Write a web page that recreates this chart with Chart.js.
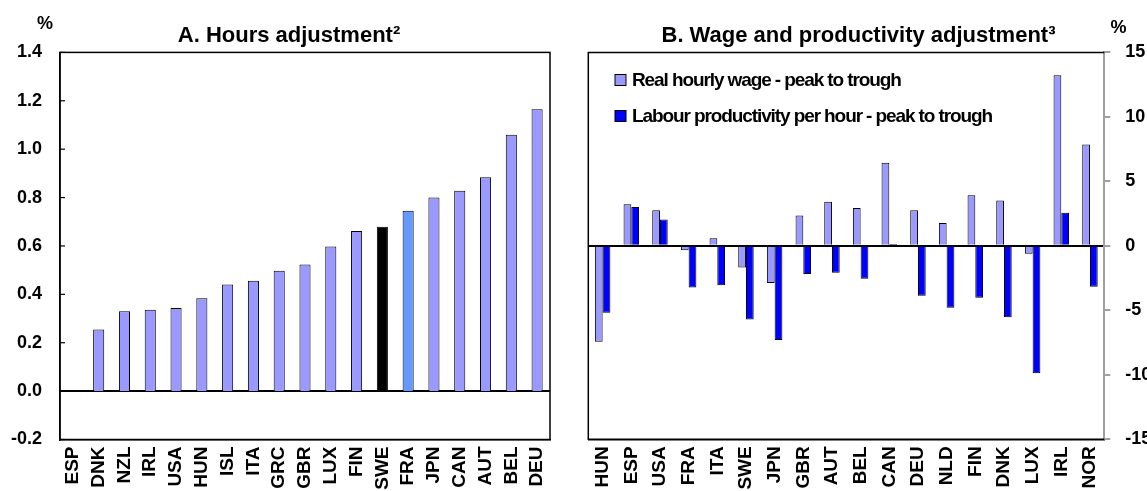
<!DOCTYPE html>
<html><head><meta charset="utf-8">
<script src="https://cdn.jsdelivr.net/npm/chart.js@4"></script>
<style>
html,body{margin:0;padding:0;background:#fff;}
#wrap{position:relative;width:1147px;height:491px;overflow:hidden;background:#fff;}
.c{position:absolute;top:0;height:491px;}
#ca{left:0;width:578px;}
#cb{left:570px;width:577px;}
</style></head><body>
<div id="wrap">
<div class="c" id="ca"><canvas id="a" width="578" height="491"></canvas></div>
<div class="c" id="cb"><canvas id="b" width="577" height="491"></canvas></div>
</div>
<script>
// Panel A: hours adjustment (%)
const hoursCountries = ['ESP','DNK','NZL','IRL','USA','HUN','ISL','ITA','GRC','GBR','LUX','FIN','SWE','FRA','JPN','CAN','AUT','BEL','DEU'];
const hoursValues = [0, 0.255, 0.330, 0.336, 0.344, 0.384, 0.441, 0.456, 0.497, 0.523, 0.598, 0.662, 0.679, 0.745, 0.800, 0.828, 0.884, 1.060, 1.165];
const hoursTitle = 'A. Hours adjustment²';

// Panel B: wage and productivity adjustment (%)
const wageCountries = ['HUN','ESP','USA','FRA','ITA','SWE','JPN','GBR','AUT','BEL','CAN','DEU','NLD','FIN','DNK','LUX','IRL','NOR'];
const realWage = [-7.44, 3.23, 2.76, -0.34, 0.59, -1.68, -2.89, 2.35, 3.41, 2.94, 6.45, 2.76, 1.78, 3.92, 3.51, -0.62, 13.22, 7.85];
const labourProd = [-5.19, 3.02, 2.04, -3.23, -3.05, -5.71, -7.31, -2.19, -2.09, -2.56, 0.15, -3.87, -4.80, -4.03, -5.53, -9.88, 2.56, -3.18];
const wageLabel = 'Real hourly wage - peak to trough';
const prodLabel = 'Labour productivity per hour - peak to trough';
const wageTitle = 'B. Wage and productivity adjustment³';

const FONT = "'Liberation Sans', Arial, Helvetica, sans-serif";
Chart.defaults.font.family = FONT;
Chart.defaults.color = '#000';

const zeroOnly = c => (Math.abs(c.tick.value) < 1e-9 ? '#000' : 'rgba(0,0,0,0)');

const xTicks = {autoSkip:false, minRotation:90, maxRotation:90, padding:7, color:'#000', font:{size:19, weight:'bold'}};
const titleOpts = text => ({display:true, text, color:'#000', font:{size:22, weight:'bold', lineHeight:1.2}, padding:{top:23, bottom:3}});
// invisible spacer axis so the title stays centred on the whole panel
const spacer = (pos, w) => ({type:'linear', position:pos, display:true, min:0, max:1, grid:{display:false, drawTicks:false}, border:{display:false}, ticks:{display:false}, afterFit(s){ s.width = w; }});

const frameA = {
  id:'frameA',
  afterDatasetsDraw(chart){
    const {ctx, chartArea:a, scales} = chart;
    ctx.save();
    ctx.strokeStyle = '#000'; ctx.lineWidth = 1.5;
    ctx.strokeRect(a.left, a.top, a.right - a.left, a.bottom - a.top);
    ctx.lineWidth = 1.2;
    scales.y.ticks.forEach(t => {
      const y = scales.y.getPixelForValue(t.value);
      ctx.beginPath(); ctx.moveTo(a.left, y); ctx.lineTo(a.left + 5, y); ctx.stroke();
    });
    ctx.restore();
  },
  afterDraw(chart){
    const ctx = chart.ctx;
    ctx.save();
    ctx.font = 'bold 18px ' + FONT; ctx.fillStyle = '#000';
    ctx.textAlign = 'center'; ctx.textBaseline = 'middle';
    ctx.fillText('%', 45, 24);
    ctx.restore();
  }
};

const frameB = {
  id:'frameB',
  afterDatasetsDraw(chart){
    const {ctx, chartArea:a} = chart;
    ctx.save();
    ctx.strokeStyle = '#000'; ctx.lineWidth = 1.5;
    ctx.beginPath();
    ctx.moveTo(a.right, a.top); ctx.lineTo(a.left, a.top); ctx.lineTo(a.left, a.bottom); ctx.lineTo(a.right, a.bottom);
    ctx.stroke();
    ctx.restore();
  },
  afterDraw(chart){
    const ctx = chart.ctx;
    ctx.save();
    ctx.font = 'bold 18px ' + FONT; ctx.fillStyle = '#000';
    ctx.textAlign = 'center'; ctx.textBaseline = 'middle';
    ctx.fillText('%', 548.5, 28);
    // legend
    ctx.font = 'bold 19px ' + FONT;
    ctx.textAlign = 'left';
    try { ctx.letterSpacing = '-1.1px'; } catch(e) {}
    chart.data.datasets.forEach((ds, i) => {
      const cy = 80 + i * 36;
      ctx.fillStyle = ds.backgroundColor;
      ctx.fillRect(45, cy - 5.5, 11, 11);
      ctx.strokeStyle = '#000'; ctx.lineWidth = 1;
      ctx.strokeRect(45, cy - 5.5, 11, 11);
      ctx.fillStyle = '#000';
      ctx.fillText(ds.label, 62, cy + 1);
    });
    ctx.restore();
  }
};

new Chart(document.getElementById('a'), {
  type:'bar',
  data:{
    labels:hoursCountries,
    datasets:[{
      data:hoursValues, xAxisID:'x', yAxisID:'y',
      backgroundColor:hoursCountries.map(c => c === 'SWE' ? '#000000' : (c === 'FRA' ? '#6699FF' : '#9999FF')),
      borderColor:'#000', borderWidth:1,
      barPercentage:0.43, categoryPercentage:1
    }]
  },
  options:{
    responsive:false, animation:false, devicePixelRatio:1,
    layout:{padding:0},
    plugins:{legend:{display:false}, tooltip:{enabled:false}, title:titleOpts(hoursTitle)},
    scales:{
      x:{
        grid:{display:false, drawTicks:false},
        border:{display:true, color:'#000', width:1.5},
        ticks:xTicks,
        afterFit(s){ s.height = 51.5; }
      },
      y:{
        min:-0.2, max:1.4,
        ticks:{stepSize:0.2, color:'#000', padding:18, font:{size:18, weight:'bold'},
               callback:v => (Math.abs(v) < 1e-9 ? 0 : Number(v)).toFixed(1)},
        grid:{drawTicks:false, color:zeroOnly, lineWidth:2},
        border:{display:true, color:'#000', width:1.5},
        afterFit(s){ s.width = 60; }
      },
      yPad: spacer('right', 28)
    }
  },
  plugins:[frameA]
});

new Chart(document.getElementById('b'), {
  type:'bar',
  data:{
    labels:wageCountries,
    datasets:[
      {label:wageLabel, data:realWage, xAxisID:'x', yAxisID:'y', backgroundColor:'#9999FF', borderColor:'#000', borderWidth:1, barPercentage:1, categoryPercentage:0.54},
      {label:prodLabel, data:labourProd, xAxisID:'x', yAxisID:'y', backgroundColor:'#0000FF', borderColor:'#000', borderWidth:1, barPercentage:1, categoryPercentage:0.54}
    ]
  },
  options:{
    responsive:false, animation:false, devicePixelRatio:1,
    layout:{padding:0},
    plugins:{legend:{display:false}, tooltip:{enabled:false}, title:titleOpts(wageTitle)},
    scales:{
      x:{
        grid:{display:false, drawTicks:false},
        border:{display:true, color:'#000', width:1.5},
        ticks:xTicks,
        afterFit(s){ s.height = 51.7; }
      },
      y:{
        position:'right',
        min:-15, max:15,
        ticks:{stepSize:5, color:'#000', padding:15, font:{size:18, weight:'bold'}},
        grid:{color:zeroOnly, lineWidth:2, tickColor:'#A0A0A0', tickLength:6, tickWidth:2},
        border:{display:true, color:'#A0A0A0', width:2},
        afterFit(s){ s.width = 42.7; }
      },
      yPad: spacer('left', 18.3)
    }
  },
  plugins:[frameB]
});
</script>
</body></html>
